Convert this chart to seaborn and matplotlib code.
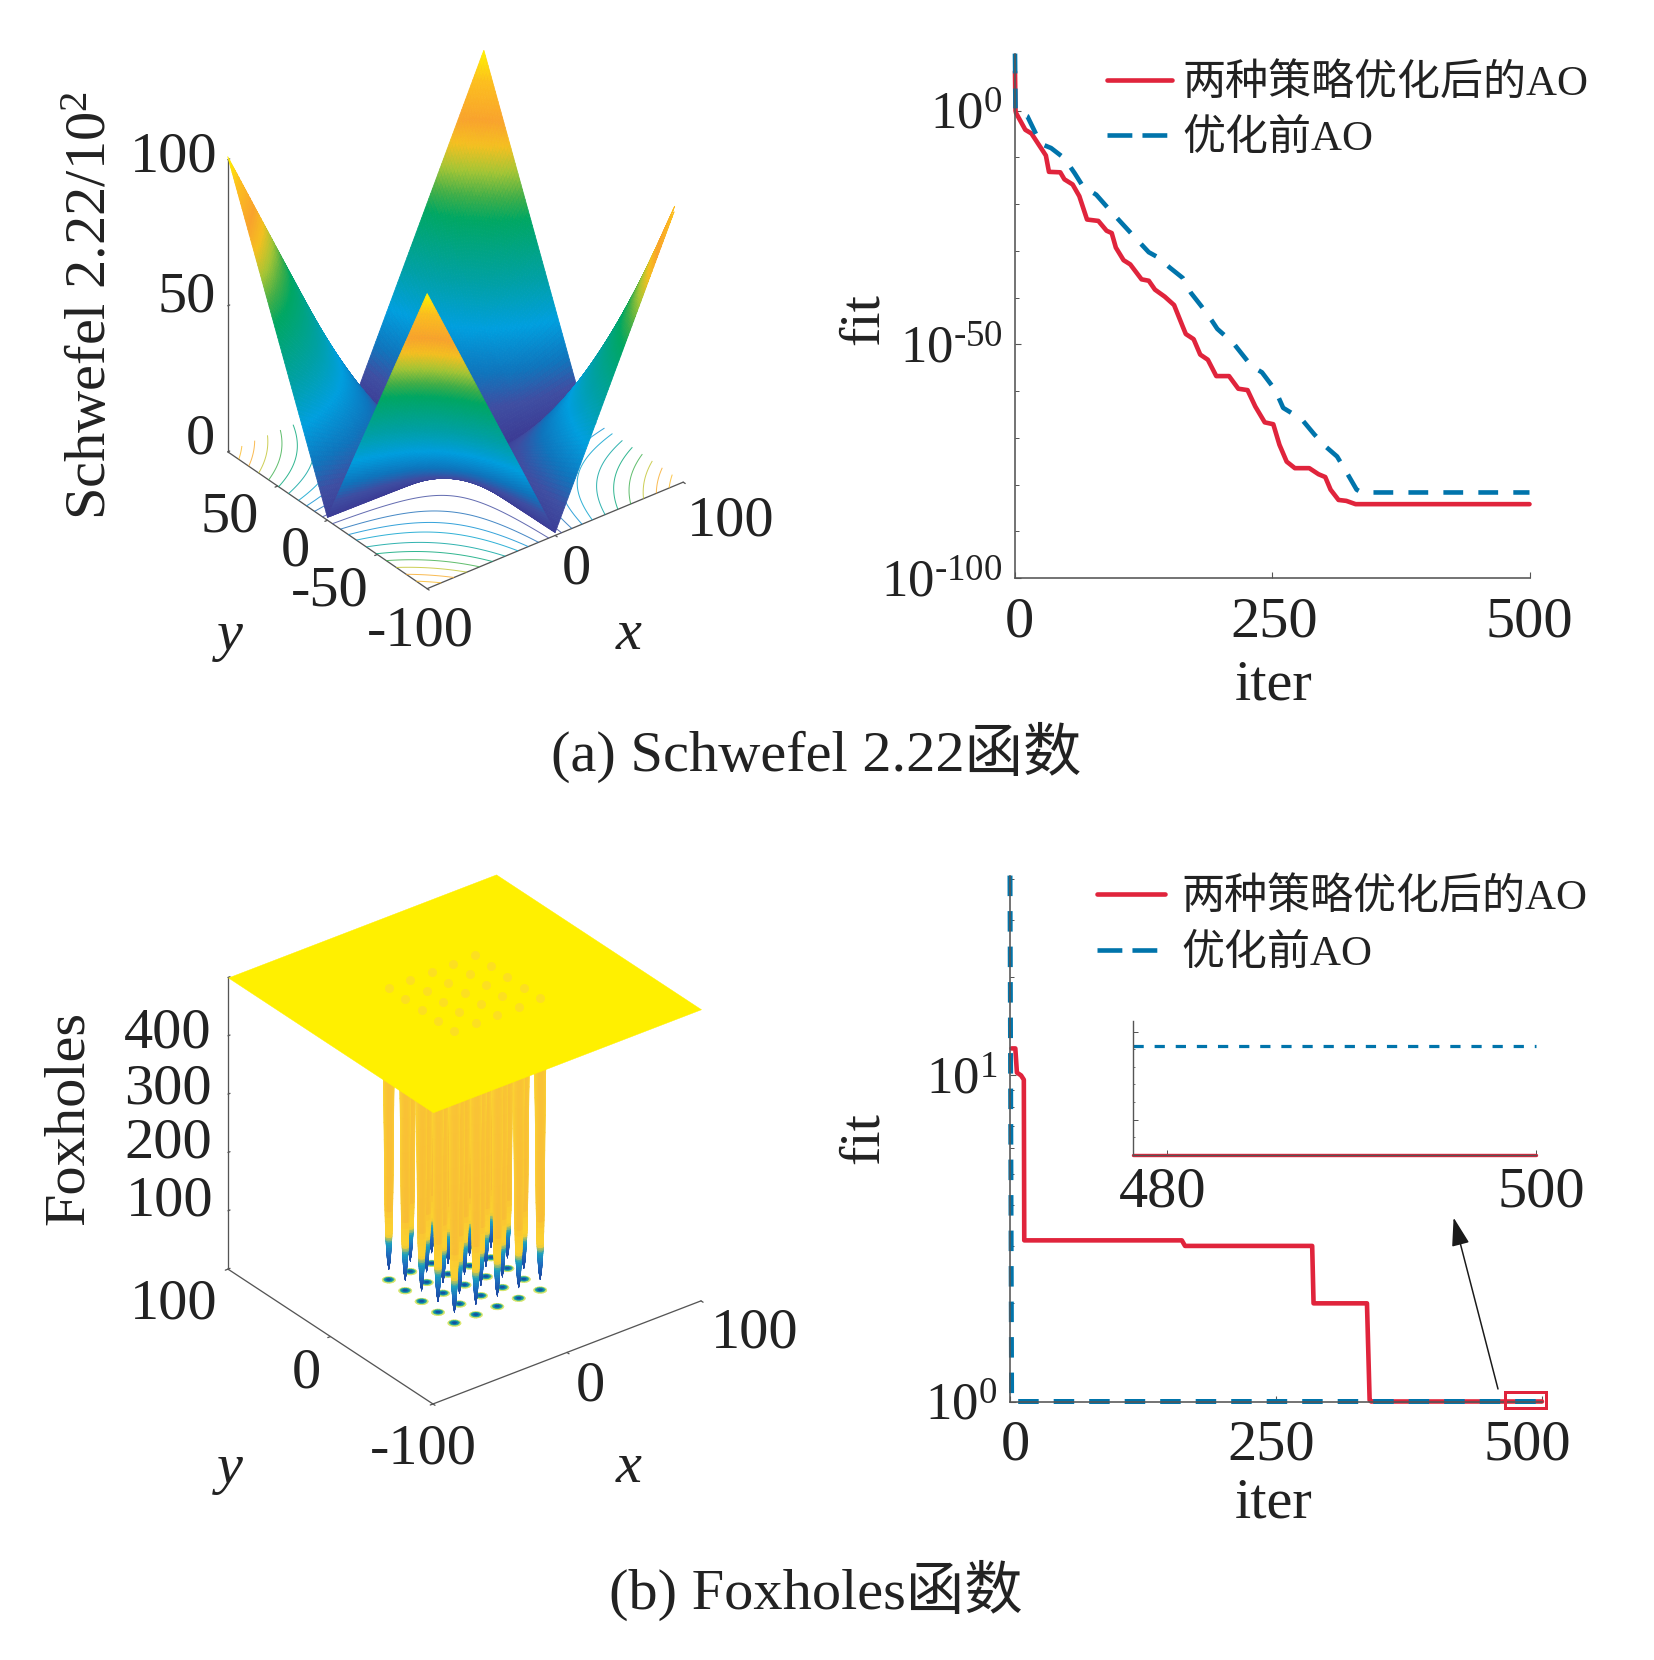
import numpy as np
import seaborn as sns
import matplotlib
matplotlib.use('Agg')
import matplotlib.pyplot as plt
from matplotlib.colors import LinearSegmentedColormap, to_rgba
from matplotlib.lines import Line2D
from matplotlib.patches import Rectangle, FancyArrowPatch
from matplotlib.transforms import ScaledTranslation
from mpl_toolkits.mplot3d import proj3d

# top panel, convergence curves (iter, exponent of fit)
iter_a_red = [0, 0.5, 1, 10, 16, 30, 33, 44, 48, 56, 62.5, 70, 81, 89, 94, 98, 105.5, 112, 123, 130, 136,
              145.5, 154.6, 163, 166, 173.6, 180, 187.4, 195.6, 208, 217, 226, 233.5, 242.7, 251, 257,
              264, 272, 286, 295, 301.5, 306.7, 314.4, 322, 331, 500]
exp_a_red = [8.4, 0, -0.5, -4.1, -4.9, -9.6, -13.1, -13.2, -14.7, -15.8, -18.3, -23.3, -23.6, -25.7, -26.2,
             -29.3, -32, -32.9, -36.1, -36.4, -38.3, -39.8, -41.6, -46.2, -47.8, -48.9, -52.2, -53.3,
             -56.8, -56.8, -59.5, -59.8, -63.3, -66.7, -67.1, -71.5, -75.1, -76.5, -76.5, -77.8, -78.4,
             -81.1, -83.3, -83.5, -84.2, -84.2]
iter_a_blue = [0, 0.5, 12, 18.4, 25, 35, 48, 58, 66, 79, 89, 98, 114.7, 130, 139, 150.5, 163, 171, 181,
               191.5, 196.6, 212, 230, 240, 253, 260.6, 278.5, 291, 301.5, 313, 322, 332, 337, 500]
exp_a_blue = [12.2, 0, -1.2, -4.1, -7.1, -8, -10.2, -13.4, -16.2, -18, -20.5, -22.7, -26.7, -30.3, -31.4,
              -33.6, -35.8, -39, -41.8, -45, -46.7, -49.7, -54.7, -56, -59.8, -63.6, -66, -69.3, -71.8,
              -74, -77.3, -81.1, -81.7, -81.7]

# bottom panel, convergence curves
iter_b_red = [1.5, 5, 6.5, 10.4, 13, 13.4, 161.5, 164.5, 284, 285.3, 335.5, 338, 339.5, 500]
fit_b_red = [12.1, 12.1, 10.2, 10.0, 9.7, 3.12, 3.12, 3.0, 3.0, 2.0, 2.0, 1.01, 1.0, 1.0]
iter_b_blue = [0, 1.5, 500]
fit_b_blue = [41, 1.0, 1.0]

inset_iter = [478.15, 500]
inset_red = [0.998, 0.998]
inset_blue = [0.99924, 0.99924]

legend_labels = ['两种策略优化后的AO', '优化前AO']

# Schwefel 2.22 surface read at a coarse grid (z / 10^2)
schwefel_axis = [-100, -50, 0, 50, 100]
schwefel_z = [[101, 51, 1, 51, 101],
              [51, 26, 0.5, 26, 51],
              [1, 0.5, 0, 0.5, 1],
              [51, 26, 0.5, 26, 51],
              [101, 51, 1, 51, 101]]
contour_levels = [6, 14, 22, 30, 40, 50, 60, 70, 80, 90]

# Foxholes: hole centres and the funnel of one hole
hole_centres = [-32, -16, 0, 16, 32]
funnel_radius = [0.0, 0.8, 1.25, 1.6, 1.9, 2.2, 2.5, 3.0, 3.7, 5.0]
funnel_level = [18, 30, 45, 60, 75, 100, 150, 300, 450, 500]
plateau_axis = [-100, 100]
plateau_z = [[500, 500], [500, 500]]
disc_radius = [0.0, 1.4, 2.4, 3.2, 4.0]
disc_colors = ['#14539f', '#0a7fb0', '#2fae8a', '#d8e66a']

W, H = 1654, 1660
RED = '#e0243c'
BLUE = '#0074ab'
ORANGE = np.array(to_rgba('#f5a83c'))
AXC = '#555555'
TXT = '#222222'
FS = 42

sns.set_theme(style='white')
fonts = ['Liberation Serif', 'Noto Sans CJK SC']
plt.rcParams['font.family'] = fonts
plt.rcParams['mathtext.fontset'] = 'custom'
plt.rcParams['mathtext.rm'] = 'Liberation Serif'
plt.rcParams['mathtext.default'] = 'rm'
plt.rcParams['text.color'] = TXT

surf_cmap = LinearSegmentedColormap.from_list('surf', [
    (0, '#3b3a94'), (.08, '#3f4ea2'), (.155, '#0f75bd'), (.26, '#009fdf'), (.37, '#00a0a8'),
    (.54, '#00a763'), (.60, '#3fae49'), (.67, '#a5c535'), (.74, '#f5c020'), (.81, '#f9a32d'),
    (.92, '#fcc01e'), (1, '#fff200')])
fox_cmap = LinearSegmentedColormap.from_list('fox', [
    (0, '#1f3f9e'), (.05, '#1b4fa8'), (.09, '#1f6fc0'), (.125, '#1aa0c0'), (.15, '#fbd030'),
    (.9, '#fee030'), (1, '#ffee00')])

fig = plt.figure(figsize=(W / 100, H / 100), dpi=100, facecolor='white')


def label(x, y, s, size=FS, **kw):
    fig.text(x / W, 1 - y / H, s, fontsize=size, ha='center', va='center', color=TXT, **kw)


def px(points):
    return points * 0.72


def make_3d(elev, azim, aspect, zlim, corners, targets):
    ax = fig.add_axes([0.05, 0.05, 0.5, 0.5], projection='3d', computed_zorder=False, proj_type='ortho')
    ax.set_xlim(-100, 100)
    ax.set_ylim(-100, 100)
    ax.set_zlim(*zlim)
    ax.view_init(elev=elev, azim=azim)
    ax.set_box_aspect(aspect, zoom=1)
    ax.set_axis_off()
    ax.patch.set_alpha(0)

    def project(pt):
        xs, ys, _ = proj3d.proj_transform(pt[0], pt[1], pt[2], ax.get_proj())
        return ax.transData.transform((xs, ys))

    # size the square axes so the floor corners land on the reference
    size, left, bottom = 800.0, 200.0, 200.0
    ax.set_position([left / W, bottom / H, size / W, size / H])
    ax.apply_aspect()
    d1, d2 = project(corners[0]), project(corners[1])
    t1 = np.array([targets[0][0], H - targets[0][1]], float)
    t2 = np.array([targets[1][0], H - targets[1][1]], float)
    size *= np.hypot(*(t2 - t1)) / np.hypot(*(d2 - d1))
    ax.set_position([left / W, bottom / H, size / W, size / H])
    ax.apply_aspect()
    shift = (t1 + t2) / 2 - (project(corners[0]) + project(corners[1])) / 2
    ax.set_position([(left + shift[0]) / W, (bottom + shift[1]) / H, size / W, size / H])
    ax.apply_aspect()
    return ax


def draw_box(ax, ztop, xticks, yticks, zticks, tick_x, tick_y, tick_z):
    kw = dict(color=AXC, lw=px(1.3), zorder=0.5)
    ax.plot([-100, 100], [-100, -100], [0, 0], **kw)
    ax.plot([-100, -100], [-100, 100], [0, 0], **kw)
    ax.plot([-100, -100], [100, 100], [0, ztop], **kw)
    for t in xticks:
        ax.plot([t, t], [-100, -100 - tick_x], [0, 0], **kw)
    for t in yticks:
        ax.plot([-100, -100 - tick_y], [t, t], [0, 0], **kw)
    for t in zticks:
        ax.plot([-100, -100 + tick_z], [100, 100], [t, t], **kw)


def shade_grid(axis, table, steps):
    # only subdivides the facets, like MATLAB "shading interp"; the heights stay those of the table
    fine = np.linspace(axis[0], axis[-1], steps)
    table = np.asarray(table, float)
    rows = np.array([np.interp(fine, axis, r) for r in table])
    z = np.array([np.interp(fine, axis, c) for c in rows.T]).T
    x, y = np.meshgrid(fine, fine)
    return x, y, z


# ---- (a) left: Schwefel surface
ax_s = make_3d(32.3, -127.9, (1, 1, 1.065), (0, 100),
               [(-100, 100, 0), (100, -100, 0)], [(228, 449), (683, 485)])
X, Y, Z = shade_grid(schwefel_axis, schwefel_z, 141)
ax_s.contour(X, Y, Z, levels=contour_levels, zdir='z', offset=0, cmap=surf_cmap, vmin=0, vmax=101,
             linewidths=px(1.0), alpha=0.8, zorder=1)
draw_box(ax_s, 100, [-100, 0, 100], [-50, 0, 50], [0, 50, 100], 2, 2, 1.5)
mid = (Z[:-1, :-1] + Z[1:, 1:]) / 2
face = surf_cmap(mid / 101)
# the tip at x=100, y=-100 is cut off in the reference
face[(X[:-1, :-1] > 92) & (Y[:-1, :-1] < -92) & (mid > 85)] = (1, 1, 1, 0)
ax_s.plot_surface(X, Y, Z, facecolors=face, rstride=1, cstride=1, shade=False,
                  linewidth=0.6, antialiased=True, zorder=3)

label(174, 158, '100')
label(187, 298, '50')
label(200, 439, '0')
label(92, 305, 'Schwefel 2.22/$10^{2}$', rotation=90)
label(230, 518, '50')
label(295, 551, '0')
label(330, 592, '-50')
label(420, 632, '-100')
label(576, 569, '0')
label(731, 521, '100')
label(230, 636, 'y', style='italic')
label(629, 635, 'x', style='italic')
label(816, 752, '(a) Schwefel 2.22函数')


def shift_tick(lbl, dx):
    lbl.set_transform(lbl.get_transform() + ScaledTranslation(dx / 100, 0, fig.dpi_scale_trans))


def style_curve(ax, rect, xticks):
    ax.set_position([rect[0] / W, 1 - rect[3] / H, (rect[1] - rect[0]) / W, (rect[3] - rect[2]) / H])
    sns.despine(ax=ax)
    for s in ['left', 'bottom']:
        ax.spines[s].set_color(AXC)
        ax.spines[s].set_linewidth(px(1.6))
    ax.set_xlim(0, 500)
    ax.set_xticks(xticks, [str(t) for t in xticks])
    ax.tick_params(axis='both', which='major', direction='in', length=px(6), width=px(1.1), color=AXC,
                   labelsize=FS, labelcolor=TXT, left=True, bottom=True)
    ax.tick_params(axis='x', which='major', pad=13)
    ax.tick_params(axis='y', which='major', pad=9, labelsize=38)
    ax.tick_params(axis='y', which='minor', direction='in', length=px(4), width=px(1), color=AXC, left=True)
    ax.patch.set_alpha(0)


def draw_curve(ax, x, y, color, lw, dash=None):
    sns.lineplot(x=x, y=y, ax=ax, color=color, linewidth=px(lw), sort=False, estimator=None,
                 errorbar=None, legend=False)
    line = ax.lines[-1]
    line.set_clip_on(False)
    if dash:
        line.set_dashes(dash)
    return line


def add_legend(ax, anchor, hlen, pad):
    handles = [Line2D([], [], color=RED, lw=px(4.6)), Line2D([], [], color=BLUE, lw=px(4.6), dashes=(5.4, 2.2))]
    ax.legend(handles, legend_labels, loc='center left', bbox_to_anchor=(anchor[0] / W, 1 - anchor[1] / H),
              bbox_transform=fig.transFigure, frameon=False, prop={'family': fonts, 'size': 31},
              borderpad=0, borderaxespad=0, handlelength=hlen / 43, handletextpad=pad / 43,
              labelspacing=0.38, labelcolor=TXT)


# ---- (a) right: curves
ax_a = fig.add_axes([0.6, 0.6, 0.3, 0.3])
draw_curve(ax_a, iter_a_red, np.power(10.0, exp_a_red), RED, 4.6)
draw_curve(ax_a, iter_a_blue, np.power(10.0, exp_a_blue), BLUE, 4.6, dash=(4.3, 3.3))
ax_a.set_yscale('log')
style_curve(ax_a, (1015, 1529.5, 53.6, 578), [0, 250, 500])
ax_a.set_ylim(1e-100, 10.0 ** 12.2)
ax_a.set_yticks([1e-100, 1e-50, 1.0], ['$10^{\\text{-100}}$', '$10^{\\text{-50}}$', '$10^{0}$'])
ax_a.set_yticks([10.0 ** e for e in range(-90, 0, 10) if e != -50], [], minor=True)
ax_a.set_xlabel('iter', fontsize=FS, color=TXT, va='center')
ax_a.xaxis.set_label_coords(0.503, -(686 - 578) / 524.4)
ax_a.set_ylabel('fit', fontsize=FS, color=TXT, va='center')
ax_a.yaxis.set_label_coords((864 - 1015) / 514.5, (578 - 319) / 524.4)
shift_tick(ax_a.get_xticklabels()[0], 4)
shift_tick(ax_a.get_xticklabels()[1], 2)
add_legend(ax_a, (1107, 111.5), 65, 10)

# ---- (b) left: Foxholes surface
AZIM_F = -127.4
ax_f = make_3d(30.2, AZIM_F, (1, 1, 1), (0, 500),
               [(-100, 100, 0), (100, -100, 0)], [(228, 1269), (701, 1301)])
draw_box(ax_f, 500, [-100, 0, 100], [-100, 0, 100], [0, 100, 200, 300, 400, 500], 2, 2, 1.5)

angles = np.deg2rad(np.arange(-180, 181, 20))
cx, cy = np.meshgrid(hole_centres, hole_centres)
cx, cy = cx.ravel(), cy.ravel()
# back to front along the view direction, so that near funnels cover far ones
order = np.argsort(cx * np.cos(np.deg2rad(AZIM_F)) + cy * np.sin(np.deg2rad(AZIM_F)))
for i in order:
    r = np.outer(disc_radius, np.cos(angles)) + cx[i]
    s = np.outer(disc_radius, np.sin(angles)) + cy[i]
    colors = np.array([[to_rgba(c)] * len(angles) for c in disc_colors])
    ax_f.plot_surface(r, s, np.zeros_like(r), facecolors=colors, rstride=1, cstride=1, shade=False,
                      linewidth=0.3, zorder=1)
# funnels are drawn with finer rings for the colour only
ring_steps = np.linspace(0, len(funnel_level) - 1, 46)
ring_radius = np.interp(ring_steps, np.arange(len(funnel_radius)), funnel_radius)
ring_level = np.interp(ring_steps, np.arange(len(funnel_level)), funnel_level)
facing = (np.cos(angles - np.deg2rad(AZIM_F)) + 1) / 2
for n, i in enumerate(order):
    r = np.outer(ring_radius, np.cos(angles)) + cx[i]
    s = np.outer(ring_radius, np.sin(angles)) + cy[i]
    z = np.outer(ring_level, np.ones_like(angles))
    colors = fox_cmap(z[:-1, :-1] / 500)
    # orange streak down the middle of each column, yellow at its sides
    mix = (np.outer(np.clip((ring_level[:-1] - 80) / 40, 0, 1), facing[:-1]) ** 2)[..., None] * 0.5
    colors = colors * (1 - mix) + ORANGE * mix
    ax_f.plot_surface(r, s, z, facecolors=colors, rstride=1, cstride=1, shade=False,
                      linewidth=0.3, zorder=2 + n * 0.01)
px_, py_ = np.meshgrid(plateau_axis, plateau_axis)
ax_f.plot_surface(px_, py_, np.array(plateau_z, float), color='#fff000', shade=False, rstride=1, cstride=1,
                  linewidth=0.3, edgecolor='#fff000', zorder=4)
ax_f.scatter(cx, cy, np.full(len(cx), 500), s=42, color='#f8c060', alpha=0.35, linewidths=0, depthshade=False,
             zorder=5)

label(168, 1033.5, '400')
label(168, 1090, '300')
label(168, 1144, '200')
label(170, 1201, '100')
label(69, 1118, 'Foxholes', rotation=90)
label(174, 1304, '100')
label(306, 1373, '0')
label(423, 1449, '-100')
label(590, 1386.5, '0')
label(755, 1333, '100')
label(230, 1469, 'y', style='italic')
label(629, 1468, 'x', style='italic')
label(816, 1590, '(b) Foxholes函数')

# ---- (b) right: curves
ax_b = fig.add_axes([0.6, 0.1, 0.3, 0.3])
draw_curve(ax_b, iter_b_red, fit_b_red, RED, 4.6)
draw_curve(ax_b, iter_b_blue, fit_b_blue, BLUE, 5, dash=(4.1, 3))
ax_b.set_yscale('log')
style_curve(ax_b, (1010, 1542, 875.6, 1401.5), [0, 250, 500])
ax_b.set_ylim(1, 41)
ax_b.set_yticks([1, 10], ['$10^{0}$', '$10^{1}$'])
ax_b.set_yticks([2, 3, 4, 5, 6, 7, 8, 9, 20, 30, 40], [], minor=True)
ax_b.set_xlabel('iter', fontsize=FS, color=TXT, va='center')
ax_b.xaxis.set_label_coords((1274 - 1010) / 532, -(1503 - 1401.5) / 525.9)
ax_b.set_ylabel('fit', fontsize=FS, color=TXT, va='center')
ax_b.yaxis.set_label_coords((864 - 1010) / 532, (1401.5 - 1138) / 525.9)
shift_tick(ax_b.get_xticklabels()[0], 5)
shift_tick(ax_b.get_xticklabels()[1], -5)
shift_tick(ax_b.get_xticklabels()[2], -15)
add_legend(ax_b, (1097, 926), 67.6, 17)

# zoom box and arrow
fig.add_artist(Rectangle((1505 / W, 1 - 1408 / H), 41 / W, 16 / H, transform=fig.transFigure, fill=False,
                         edgecolor=RED, linewidth=px(3), zorder=10))
fig.add_artist(FancyArrowPatch(
    (1498 / W, 1 - 1389 / H), (1453.6 / W, 1 - 1217.6 / H), transform=fig.transFigure,
    arrowstyle='-|>,head_length=1.6,head_width=0.5', mutation_scale=11, color='#1a1a1a',
    linewidth=px(1.5), shrinkA=0, shrinkB=0, zorder=10))

# ---- inset
ax_i = fig.add_axes([1133 / W, 1 - 1155 / H, (1536 - 1133) / W, (1155 - 1021) / H])
draw_curve(ax_i, inset_iter, inset_red, RED, 3.4)
draw_curve(ax_i, inset_iter, inset_blue, BLUE, 3.2, dash=(3.2, 3.4))
sns.despine(ax=ax_i)
for s in ['left', 'bottom']:
    ax_i.spines[s].set_color(AXC)
    ax_i.spines[s].set_linewidth(px(1.4))
ax_i.set_xlim(478.15, 500)
ax_i.set_ylim(0.998, 0.99952)
ax_i.set_xticks([480, 500], ['480', '500'])
ax_i.set_yticks([0.9984, 0.9994], ['', ''])
ax_i.set_yticks([0.9982, 0.9986, 0.9988, 0.9990, 0.9992], [], minor=True)
ax_i.tick_params(axis='both', which='major', direction='in', length=px(5), width=px(1), color=AXC,
                 labelsize=FS, labelcolor=TXT, left=True, bottom=True, pad=8)
ax_i.tick_params(axis='y', which='minor', direction='in', length=px(2.5), width=px(0.8), color=AXC, left=True)
shift_tick(ax_i.get_xticklabels()[0], -4)
shift_tick(ax_i.get_xticklabels()[1], 5)
ax_i.patch.set_alpha(0)

fig.savefig('out.png', dpi=100, facecolor='white')
